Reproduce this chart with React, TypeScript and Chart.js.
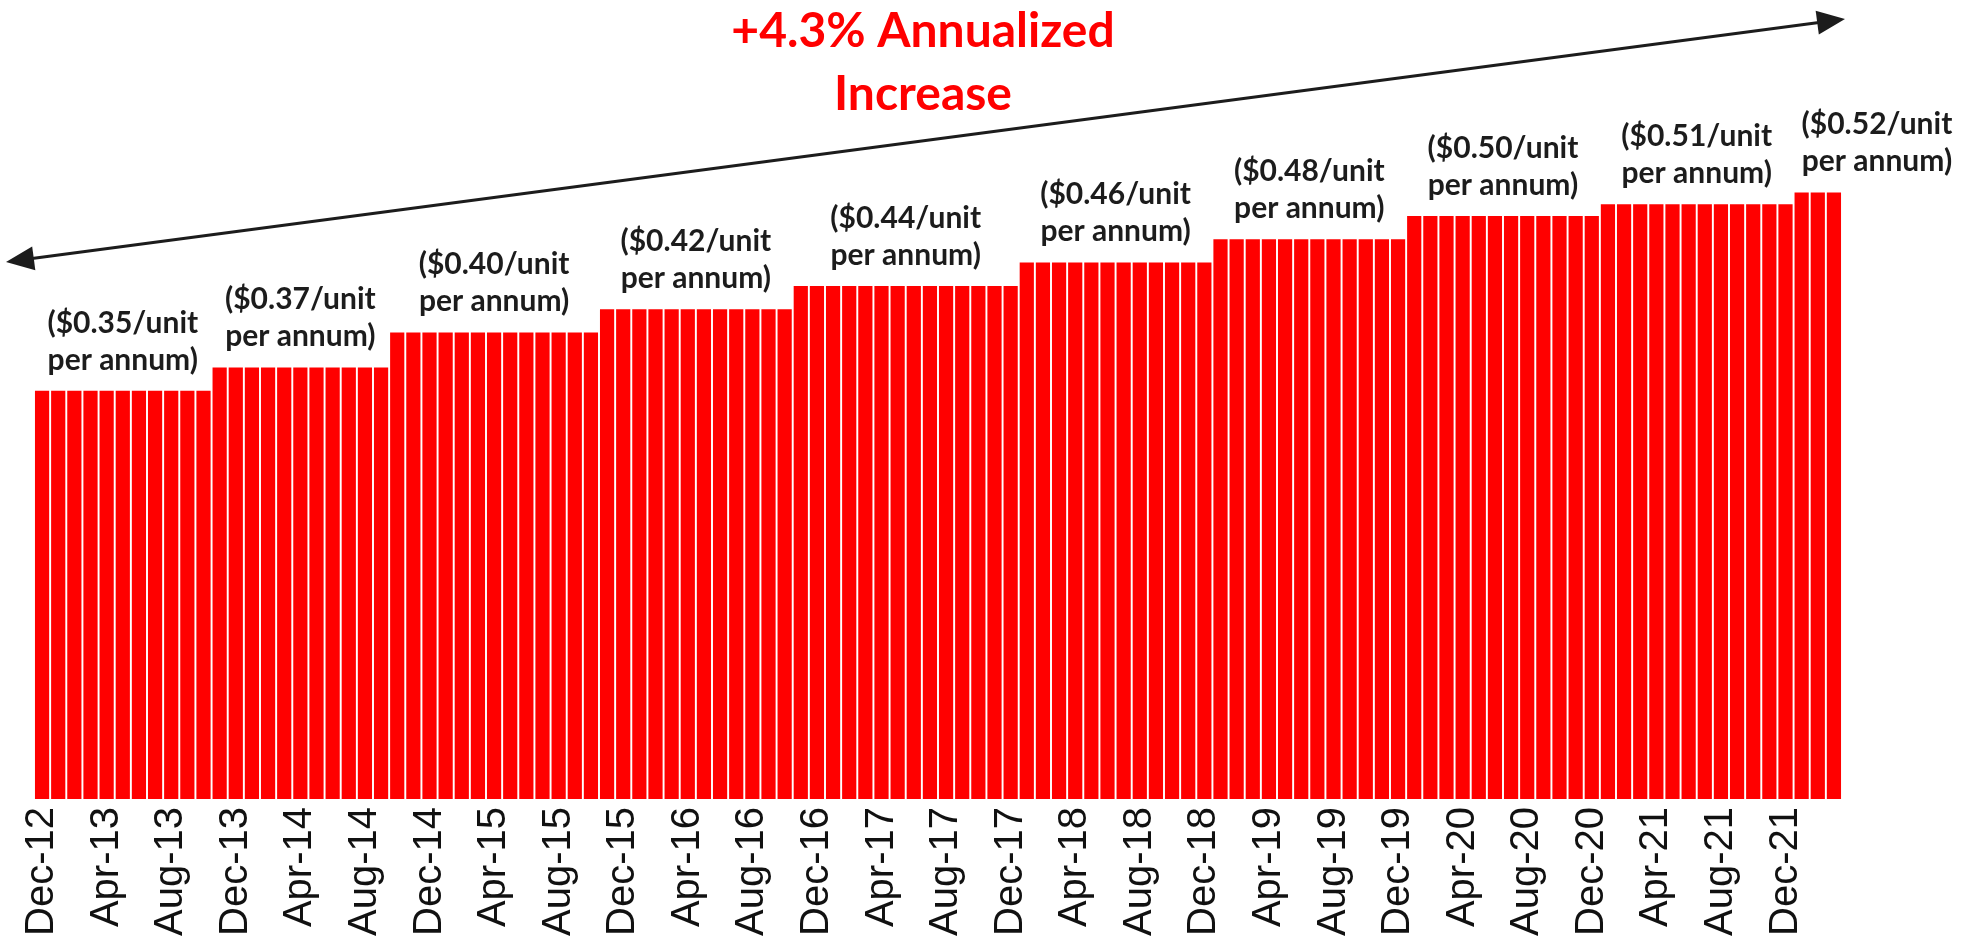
import React, { useEffect, useRef } from "react";
import { Chart, registerables } from "chart.js";

Chart.register(...registerables);

// Monthly categories, Dec-12 through Mar-22
const MONTHS: string[] = [
  "Dec-12",
  "Jan-13", "Feb-13", "Mar-13", "Apr-13", "May-13", "Jun-13", "Jul-13", "Aug-13", "Sep-13", "Oct-13", "Nov-13", "Dec-13",
  "Jan-14", "Feb-14", "Mar-14", "Apr-14", "May-14", "Jun-14", "Jul-14", "Aug-14", "Sep-14", "Oct-14", "Nov-14", "Dec-14",
  "Jan-15", "Feb-15", "Mar-15", "Apr-15", "May-15", "Jun-15", "Jul-15", "Aug-15", "Sep-15", "Oct-15", "Nov-15", "Dec-15",
  "Jan-16", "Feb-16", "Mar-16", "Apr-16", "May-16", "Jun-16", "Jul-16", "Aug-16", "Sep-16", "Oct-16", "Nov-16", "Dec-16",
  "Jan-17", "Feb-17", "Mar-17", "Apr-17", "May-17", "Jun-17", "Jul-17", "Aug-17", "Sep-17", "Oct-17", "Nov-17", "Dec-17",
  "Jan-18", "Feb-18", "Mar-18", "Apr-18", "May-18", "Jun-18", "Jul-18", "Aug-18", "Sep-18", "Oct-18", "Nov-18", "Dec-18",
  "Jan-19", "Feb-19", "Mar-19", "Apr-19", "May-19", "Jun-19", "Jul-19", "Aug-19", "Sep-19", "Oct-19", "Nov-19", "Dec-19",
  "Jan-20", "Feb-20", "Mar-20", "Apr-20", "May-20", "Jun-20", "Jul-20", "Aug-20", "Sep-20", "Oct-20", "Nov-20", "Dec-20",
  "Jan-21", "Feb-21", "Mar-21", "Apr-21", "May-21", "Jun-21", "Jul-21", "Aug-21", "Sep-21", "Oct-21", "Nov-21", "Dec-21",
  "Jan-22", "Feb-22", "Mar-22",
];

// $/unit per annum, one value per month
const RATES: number[] = [
  0.35, 0.35, 0.35, 0.35, 0.35, 0.35, 0.35, 0.35, 0.35, 0.35, 0.35,
  0.37, 0.37, 0.37, 0.37, 0.37, 0.37, 0.37, 0.37, 0.37, 0.37, 0.37,
  0.40, 0.40, 0.40, 0.40, 0.40, 0.40, 0.40, 0.40, 0.40, 0.40, 0.40, 0.40, 0.40,
  0.42, 0.42, 0.42, 0.42, 0.42, 0.42, 0.42, 0.42, 0.42, 0.42, 0.42, 0.42,
  0.44, 0.44, 0.44, 0.44, 0.44, 0.44, 0.44, 0.44, 0.44, 0.44, 0.44, 0.44, 0.44, 0.44,
  0.46, 0.46, 0.46, 0.46, 0.46, 0.46, 0.46, 0.46, 0.46, 0.46, 0.46, 0.46,
  0.48, 0.48, 0.48, 0.48, 0.48, 0.48, 0.48, 0.48, 0.48, 0.48, 0.48, 0.48,
  0.50, 0.50, 0.50, 0.50, 0.50, 0.50, 0.50, 0.50, 0.50, 0.50, 0.50, 0.50,
  0.51, 0.51, 0.51, 0.51, 0.51, 0.51, 0.51, 0.51, 0.51, 0.51, 0.51, 0.51,
  0.52, 0.52, 0.52,
];

const TITLE_LINES: string[] = ["+4.3% Annualized", "Increase"];
const LABEL_EVERY = 4;

const RED = "#ff0000";
const INK = "#1c1c1c";
const NOTE_FONT = "bold 30px Lato, 'Open Sans', sans-serif";

export default function App() {
  const ref = useRef<HTMLCanvasElement>(null);

  useEffect(() => {
    document.body.style.margin = "0";
    document.body.style.overflow = "hidden";
    const canvas = ref.current;
    if (!canvas) return;

    const annotate = {
      id: "annotate",
      afterDraw(chart: any) {
        const ctx: CanvasRenderingContext2D = chart.ctx;
        const xs = chart.scales.x;
        const ys = chart.scales.y;
        const area = chart.chartArea;
        ctx.save();

        // Title
        ctx.fillStyle = RED;
        ctx.font = "bold 48px Lato, 'Open Sans', sans-serif";
        ctx.textAlign = "center";
        ctx.textBaseline = "middle";
        ctx.fillText(TITLE_LINES[0], 923, 32);
        ctx.fillText(TITLE_LINES[1], 923, 95);

        // Double-headed arrow
        const x1 = area.left - 28, y1 = 262;
        const x2 = area.right + 3, y2 = 19;
        const ang = Math.atan2(y2 - y1, x2 - x1);
        const head = 28, half = 12;
        ctx.strokeStyle = INK;
        ctx.fillStyle = INK;
        ctx.lineWidth = 3;
        ctx.beginPath();
        ctx.moveTo(x1 + Math.cos(ang) * head * 0.8, y1 + Math.sin(ang) * head * 0.8);
        ctx.lineTo(x2 - Math.cos(ang) * head * 0.8, y2 - Math.sin(ang) * head * 0.8);
        ctx.stroke();
        const drawHead = (tx: number, ty: number, a: number) => {
          const bx = tx - Math.cos(a) * head;
          const by = ty - Math.sin(a) * head;
          ctx.beginPath();
          ctx.moveTo(tx, ty);
          ctx.lineTo(bx + Math.sin(a) * half, by - Math.cos(a) * half);
          ctx.lineTo(bx - Math.sin(a) * half, by + Math.cos(a) * half);
          ctx.closePath();
          ctx.fill();
        };
        drawHead(x2, y2, ang);
        drawHead(x1, y1, ang + Math.PI);

        // Rate notes above each step
        ctx.font = NOTE_FONT;
        ctx.fillStyle = INK;
        ctx.textBaseline = "middle";
        const step = xs.getPixelForValue(1) - xs.getPixelForValue(0);
        let start = 0;
        for (let i = 1; i <= RATES.length; i++) {
          if (i === RATES.length || RATES[i] !== RATES[start]) {
            const v = RATES[start];
            const l1 = "($" + v.toFixed(2) + "/unit";
            const l2 = "per annum)";
            const w = Math.max(ctx.measureText(l1).width, ctx.measureText(l2).width);
            const left = xs.getPixelForValue(start) - step / 2;
            const right = xs.getPixelForValue(i - 1) + step / 2;
            let cx = (left + right) / 2;
            if (right - left < w * 0.6) cx = left + 8 + w / 2;
            const top = ys.getPixelForValue(v);
            ctx.textAlign = "center";
            ctx.fillText(l1, cx, top - 68);
            ctx.fillText(l2, cx, top - 31);
            start = i;
          }
        }
        ctx.restore();
      },
    };

    const chart = new Chart(canvas, {
      type: "bar",
      data: {
        labels: MONTHS,
        datasets: [
          {
            data: RATES,
            backgroundColor: RED,
            borderWidth: 0,
            barPercentage: 0.88,
            categoryPercentage: 1,
          },
        ],
      },
      options: {
        responsive: true,
        maintainAspectRatio: false,
        animation: false,
        events: [],
        layout: { padding: { left: 34, right: 135, top: 6, bottom: 0 } },
        plugins: {
          legend: { display: false },
          tooltip: { enabled: false },
          title: { display: false },
        },
        scales: {
          x: {
            grid: { display: false, drawTicks: false },
            border: { display: false },
            ticks: {
              autoSkip: false,
              maxRotation: 90,
              minRotation: 90,
              padding: 8,
              color: "#111111",
              font: { family: "'Liberation Sans', Arial, sans-serif", size: 40 },
              callback: (_v: any, i: number) => (i % LABEL_EVERY === 0 ? MONTHS[i] : ""),
            },
          },
          y: { display: false, min: 0, max: 0.68 },
        },
      },
      plugins: [annotate],
    });

    return () => chart.destroy();
  }, []);

  return (
    <div style={{ position: "absolute", left: 0, top: 0, width: 1977, height: 944, background: "#fff" }}>
      <canvas ref={ref} />
    </div>
  );
}
